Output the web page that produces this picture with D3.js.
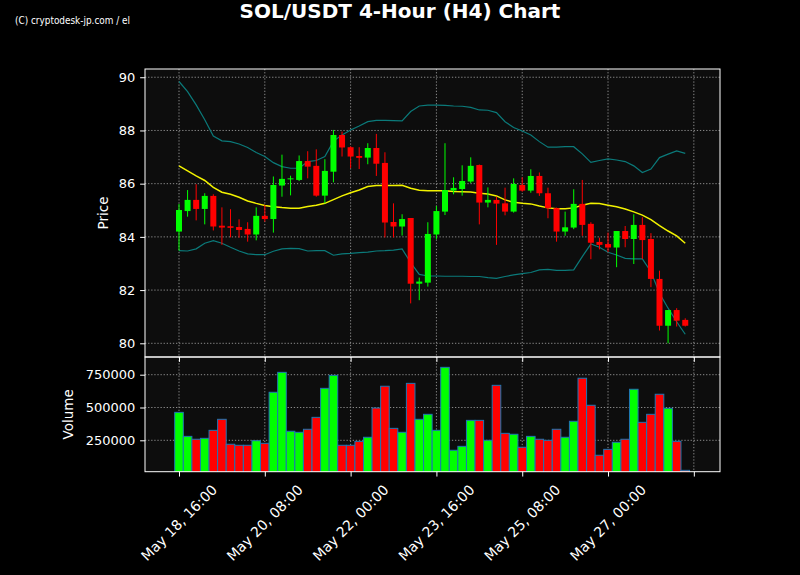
<!DOCTYPE html>
<html><head><meta charset="utf-8">
<script src="https://cdn.jsdelivr.net/npm/d3@7/dist/d3.min.js"></script>
<style>body{margin:0;background:#000}svg{display:block}</style>
</head><body><svg id="c" width="800" height="575"></svg>
<script>
const opens =[84.20,84.97,85.39,85.05,85.54,84.42,84.40,84.37,84.30,84.09,84.79,84.67,85.93,86.17,86.14,86.85,86.67,85.55,86.45,87.83,87.37,87.04,86.98,87.34,86.78,84.56,84.39,84.71,82.24,82.28,84.09,84.95,85.74,85.80,86.08,86.70,85.29,85.39,85.26,84.95,85.95,85.74,86.29,85.64,85.08,84.20,84.35,85.24,84.49,83.81,83.73,83.60,84.22,83.92,84.45,83.92,82.42,80.66,81.25,80.88];
const highs =[85.24,85.76,85.98,85.64,85.60,85.11,85.04,84.66,84.55,85.11,85.20,86.27,87.09,86.30,87.06,87.22,87.29,86.92,88.02,87.96,87.40,87.37,87.52,87.87,87.18,85.26,84.85,84.71,82.47,84.55,85.16,87.52,86.24,86.69,86.99,86.72,85.86,85.51,85.85,86.20,86.24,86.54,86.42,85.85,85.10,84.95,85.79,86.14,84.55,83.97,84.16,84.22,84.41,84.85,84.74,84.14,82.73,81.25,81.32,80.94];
const lows  =[83.48,84.76,84.62,84.47,84.24,83.70,83.98,83.97,83.82,83.87,84.57,84.16,85.51,85.56,86.10,86.20,85.51,85.26,86.05,87.02,86.58,86.55,86.73,86.29,83.98,83.98,84.05,81.50,81.62,82.13,83.91,84.82,85.60,85.55,86.02,84.47,85.11,83.70,84.81,84.91,85.70,85.66,85.54,84.70,83.82,84.04,84.29,84.04,83.16,83.53,83.42,82.86,83.61,82.98,83.17,82.11,80.48,80.00,80.63,80.63];
const closes=[85.01,85.39,85.05,85.54,84.39,84.35,84.34,84.26,84.09,84.79,84.67,85.95,86.18,86.20,86.85,86.64,85.55,86.48,87.83,87.36,87.02,86.97,87.34,86.75,84.54,84.39,84.67,82.24,82.32,84.11,84.97,85.76,85.84,86.10,86.67,85.29,85.39,85.25,84.95,85.99,85.74,86.29,85.64,85.08,84.20,84.36,85.24,84.45,83.78,83.70,83.60,84.22,83.92,84.45,83.88,82.42,80.66,81.25,80.85,80.66];
const volumes=[463000,280000,258000,265000,326000,410000,220000,212000,212000,247000,
227000,616000,768000,319000,311000,334000,425000,646000,745000,212000,
212000,242000,273000,496000,662000,341000,311000,684000,410000,448000,
326000,806000,174000,204000,402000,402000,250000,669000,303000,296000,
197000,280000,258000,250000,334000,273000,395000,723000,517000,136000,
181000,235000,258000,639000,387000,448000,601000,494000,242000,21000];
const sma=[86.67,86.48,86.29,86.12,85.86,85.68,85.60,85.49,85.35,85.26,85.18,85.13,85.10,85.08,85.08,85.14,85.19,85.26,85.40,85.54,85.66,85.76,85.89,85.93,85.93,85.93,85.94,85.83,85.75,85.73,85.73,85.73,85.71,85.70,85.69,85.64,85.61,85.54,85.39,85.30,85.26,85.24,85.16,85.09,85.06,85.06,85.09,85.19,85.26,85.25,85.19,85.13,85.05,84.94,84.82,84.65,84.42,84.22,84.04,83.76];
const upper=[89.84,89.46,88.96,88.40,87.79,87.61,87.58,87.49,87.36,87.17,87.02,86.79,86.64,86.58,86.58,86.83,86.87,87.02,87.60,87.83,88.02,88.17,88.33,88.38,88.38,88.37,88.36,88.71,88.92,88.95,88.95,88.94,88.92,88.91,88.87,88.77,88.76,88.67,88.33,88.11,87.98,87.83,87.58,87.37,87.37,87.39,87.39,87.12,86.80,86.87,86.93,86.89,86.83,86.67,86.42,86.55,86.98,87.11,87.23,87.14];
const lower=[83.48,83.47,83.55,83.76,83.86,83.76,83.61,83.47,83.36,83.33,83.33,83.46,83.55,83.57,83.56,83.47,83.48,83.48,83.31,83.36,83.38,83.41,83.43,83.47,83.48,83.50,83.55,83.03,82.59,82.53,82.53,82.52,82.52,82.52,82.51,82.51,82.47,82.44,82.51,82.57,82.62,82.66,82.76,82.78,82.74,82.74,82.76,83.26,83.73,83.61,83.42,83.32,83.19,83.17,83.17,82.69,81.88,81.32,80.81,80.34];
const xTickIdx=[0,10,20,30,40,50,60];
const xTickLabels=["May 18, 16:00","May 20, 08:00","May 22, 00:00","May 23, 16:00","May 25, 08:00","May 27, 00:00",""];
const priceTicks=[80,82,84,86,88,90];
const volTicks=[250000,500000,750000];

const svg=d3.select("#c");
const L=145,R=720,PT=69,PB=357,VT=357,VB=471.7;
const UP="#00ff00",DN="#ff0000",BG="#0d0d0d",GRID="#8a8a8a",TEAL="#0b7a7a",YEL="#f2f200";
const TL=4.86,TP=4.86;
const n=opens.length;
const idx=d3.range(n);

const x=d3.scaleLinear().domain([-3.963,63.05]).range([L,R]);
const y=d3.scaleLinear().domain([79.485,90.31]).range([PB,PT]);
const yv=d3.scaleLinear().domain([10700,884900]).range([VB,VT]);
const step=x(1)-x(0);

svg.append("rect").attr("width",800).attr("height",575).attr("fill","#000");
const defs=svg.append("defs");
defs.append("clipPath").attr("id","cp").append("rect").attr("x",L).attr("y",PT).attr("width",R-L).attr("height",PB-PT);
defs.append("clipPath").attr("id","cv").append("rect").attr("x",L).attr("y",VT).attr("width",R-L).attr("height",VB-VT);

svg.append("rect").attr("x",L).attr("y",PT).attr("width",R-L).attr("height",PB-PT).attr("fill",BG);
svg.append("rect").attr("x",L).attr("y",VT).attr("width",R-L).attr("height",VB-VT).attr("fill",BG);

// grids
const gp=svg.append("g").attr("clip-path","url(#cp)");
const gv=svg.append("g").attr("clip-path","url(#cv)");
const dash="1.3,1.8";
gp.selectAll("line.hx").data(priceTicks).join("line").attr("x1",L).attr("x2",R)
  .attr("y1",d=>y(d)).attr("y2",d=>y(d)).attr("stroke",GRID).attr("stroke-dasharray",dash);
gp.selectAll("line.vx").data(xTickIdx).join("line").attr("class","vx").attr("y1",PT).attr("y2",PB)
  .attr("x1",d=>x(d)).attr("x2",d=>x(d)).attr("stroke",GRID).attr("stroke-dasharray",dash);
gv.selectAll("line.hv").data(volTicks).join("line").attr("class","hv").attr("x1",L).attr("x2",R)
  .attr("y1",d=>yv(d)).attr("y2",d=>yv(d)).attr("stroke",GRID).attr("stroke-dasharray",dash);
gv.selectAll("line.vv").data(xTickIdx).join("line").attr("class","vv").attr("y1",VT).attr("y2",VB)
  .attr("x1",d=>x(d)).attr("x2",d=>x(d)).attr("stroke",GRID).attr("stroke-dasharray",dash);

// bands
const line=arr=>d3.line().x(i=>x(i)).y(i=>y(arr[i]))(idx);
gp.append("path").attr("d",line(upper)).attr("fill","none").attr("stroke",TEAL).attr("stroke-width",1.2);
gp.append("path").attr("d",line(lower)).attr("fill","none").attr("stroke",TEAL).attr("stroke-width",1.2);
gp.append("path").attr("d",line(sma)).attr("fill","none").attr("stroke",YEL).attr("stroke-width",1.5);

// candles
const col=i=>closes[i]>=opens[i]?UP:DN;
gp.selectAll("line.w").data(idx).join("line").attr("class","w")
  .attr("x1",i=>x(i)).attr("x2",i=>x(i)).attr("y1",i=>y(highs[i])).attr("y2",i=>y(lows[i]))
  .attr("stroke",col).attr("stroke-width",1);
const bw=step*0.7;
gp.selectAll("rect.b").data(idx).join("rect").attr("class","b")
  .attr("x",i=>x(i)-bw/2).attr("width",bw)
  .attr("y",i=>Math.min(y(opens[i]),y(closes[i])))
  .attr("height",i=>Math.max(1,Math.abs(y(opens[i])-y(closes[i]))))
  .attr("fill",col);

// volume
gv.selectAll("rect.v").data(idx).join("rect").attr("class","v")
  .attr("x",i=>x(i)-step/2).attr("width",step)
  .attr("y",i=>yv(volumes[i])).attr("height",i=>VB+2-yv(volumes[i]))
  .attr("fill",col).attr("stroke","#1f77b4").attr("stroke-width",1);

// frames
[[PT,PB],[VT,VB]].forEach(([t,b])=>{
  svg.append("rect").attr("x",L).attr("y",t).attr("width",R-L).attr("height",b-t)
    .attr("fill","none").attr("stroke","#fff").attr("stroke-width",1);
});

const FONT="DejaVu Sans, sans-serif";
function styleAxis(g){
  g.select(".domain").remove();
  g.selectAll(".tick line").attr("stroke","#fff");
  g.selectAll(".tick text").attr("fill","#fff").attr("font-family",FONT).attr("font-size",13);
}
svg.append("g").attr("transform",`translate(${L},0)`)
  .call(d3.axisLeft(y).tickValues(priceTicks).tickFormat(d3.format("d")).tickSize(TL).tickPadding(TP)).call(styleAxis);
svg.append("g").attr("transform",`translate(${L},0)`)
  .call(d3.axisLeft(yv).tickValues(volTicks).tickFormat(d3.format("d")).tickSize(TL).tickPadding(TP)).call(styleAxis);
svg.append("g").attr("transform",`translate(0,${PB})`)
  .call(d3.axisBottom(x).tickValues(xTickIdx).tickFormat("").tickSize(TL)).call(styleAxis);
svg.append("g").attr("transform",`translate(0,${VB})`)
  .call(d3.axisBottom(x).tickValues(xTickIdx).tickFormat("").tickSize(TL)).call(styleAxis);

// rotated x labels, centered, bbox top at VB+TL+TP
const XF=14;
const labG=svg.append("g");
xTickIdx.forEach((t,k)=>{
  const s=xTickLabels[k]; if(!s) return;
  const tx=labG.append("text").text(s).attr("fill","#fff").attr("font-family",FONT).attr("font-size",XF)
    .attr("text-anchor","middle").attr("dominant-baseline","central");
  const w=tx.node().getComputedTextLength();
  const h=XF*1.16;
  const bh=(w+h)/Math.SQRT2;
  const cx=x(t), cy=VB+TL+TP+bh/2;
  tx.attr("transform",`translate(${cx},${cy}) rotate(-45)`);
});

// axis labels
svg.append("text").text("Price").attr("fill","#fff").attr("font-family",FONT).attr("font-size",13.5)
  .attr("text-anchor","middle").attr("transform",`translate(108,${(PT+PB)/2}) rotate(-90)`);
svg.append("text").text("Volume").attr("fill","#fff").attr("font-family",FONT).attr("font-size",13.5)
  .attr("text-anchor","middle").attr("transform",`translate(73,${(VT+VB)/2}) rotate(-90)`);

// title
svg.append("text").text("SOL/USDT 4-Hour (H4) Chart").attr("x",400).attr("y",18)
  .attr("fill","#fff").attr("font-family",FONT).attr("font-weight","bold").attr("font-size",20)
  .attr("text-anchor","middle");
svg.append("text").text("(C) cryptodesk-jp.com / el").attr("x",15).attr("y",24)
  .attr("fill","#fff").attr("font-family","Liberation Sans Narrow, DejaVu Sans Condensed, sans-serif")
  .attr("font-size",11).attr("textLength",115).attr("lengthAdjust","spacingAndGlyphs");
</script></body></html>
